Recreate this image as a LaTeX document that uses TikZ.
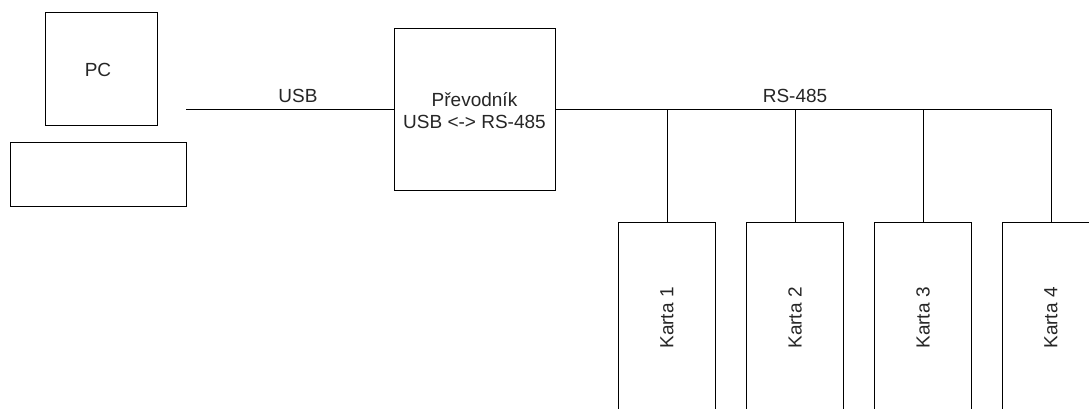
\documentclass[tikz,border=0pt]{standalone}
\usepackage{fontspec}
\setmainfont{Liberation Sans}
\begin{document}
\begin{tikzpicture}[x=1pt,y=-1pt,
  box/.style={draw=black,line width=1pt,fill=white,inner sep=0pt,outer sep=0pt},
  lbl/.style={font=\fontsize{19}{22}\selectfont,text=black!85,inner sep=0pt,align=center},
  wire/.style={draw=black,line width=1pt}]
\useasboundingbox (0,0) rectangle (1089,409);
\clip (0,0) rectangle (1089,409);
% PC
\node[box,minimum width=112,minimum height=113] (pc) at (101,69.5) {};
\node[lbl] (pct) at (98,70) {PC};
\node[box,minimum width=176,minimum height=64] (kb) at (98,174) {};
% converter
\node[box,minimum width=161,minimum height=161] (conv) at (474.5,109.5) {};
\node[lbl] (convt) at (474.5,111) {Převodník\\USB <-> RS-485};
% cards
\foreach \i/\x in {1/667,2/795,3/923,4/1051}{
  \node[box,minimum width=97,minimum height=192] (k\i) at (\x,318) {};
  \node[lbl,rotate=90] (k\i t) at (k\i.center) {Karta \i};
}
% USB link
\coordinate (usbstart) at (186,110);
\draw[wire] (usbstart) -- (conv.west |- usbstart);
\node[lbl] (usb) at (298,96) {USB};
% RS-485 bus
\draw[wire] (conv.east |- usbstart) -- (k4.north |- usbstart) -- (k4.north);
\foreach \i in {1,2,3}{
  \draw[wire] (k\i.north |- usbstart) -- (k\i.north);
}
\node[lbl] (rs) at (795,96) {RS-485};
\end{tikzpicture}
\end{document}
